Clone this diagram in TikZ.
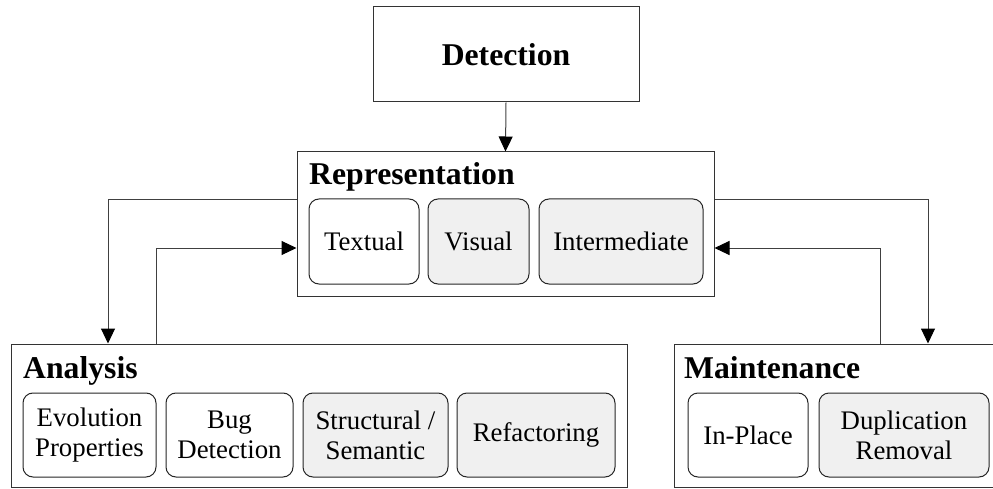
\documentclass[tikz,border=0pt]{standalone}
\usepackage{fontspec}
\setmainfont{Liberation Serif}
\usetikzlibrary{arrows.meta}

\tikzset{
  outerbox/.style={draw=black!80, line width=1pt, fill=white, inner sep=0pt},
  itembox/.style={draw=black!85, line width=1pt, rounded corners=10pt, inner sep=0pt,
    align=center, font=\fontsize{26.8}{30}\selectfont},
  plainitem/.style={itembox, fill=white},
  greyitem/.style={itembox, fill=black!6},
  heading/.style={anchor=base west, inner sep=0pt, font=\fontsize{31.7}{38}\selectfont\bfseries},
  arr/.style={draw=black!75, line width=1pt,
    -{Triangle[length=15pt 0 0,width=14pt 0 0,fill=black,color=black]}},
}

\begin{document}
\begin{tikzpicture}[x=1pt, y=-1pt]
\useasboundingbox (0,0) rectangle (993,489);

% top level
\node[outerbox, minimum width=266pt, minimum height=95pt,
      font=\fontsize{31.7}{38}\selectfont\bfseries] (det) at (506,54.5) {Detection};

% representation group
\node[outerbox, minimum width=417pt, minimum height=144pt] (rep) at (505.5,224) {};
\node[heading] (repT) at (309,185) {Representation};
\node[plainitem, minimum width=110pt, minimum height=85pt] (txt) at (364,241.5) {Textual};
\node[greyitem, minimum width=101pt, minimum height=85pt] (vis) at (478.5,241.5) {Visual};
\node[greyitem, minimum width=164pt, minimum height=85pt] (int) at (621,241.5) {Intermediate};

% analysis group
\node[outerbox, minimum width=616pt, minimum height=143pt] (ana) at (319,415.5) {};
\node[heading] (anaT) at (23,378) {Analysis};
\node[plainitem, minimum width=133pt, minimum height=84pt] (evo) at (89.5,435) {Evolution\\Properties};
\node[plainitem, minimum width=127pt, minimum height=84pt] (bug) at (229.5,435) {Bug\\Detection};
\node[greyitem, minimum width=145pt, minimum height=84pt] (str) at (375.5,435) {Structural /\\Semantic};
\node[greyitem, minimum width=158pt, minimum height=84pt] (ref) at (536,435) {Refactoring};

% maintenance group (runs past the right margin)
\node[outerbox, minimum width=331pt, minimum height=143pt] (mnt) at (839.5,415.5) {};
\node[heading] (mntT) at (684,378) {Maintenance};
\node[plainitem, minimum width=120pt, minimum height=84pt] (inp) at (748,435) {In-Place};
\node[greyitem, minimum width=170pt, minimum height=84pt] (dup) at (904,435) {Duplication\\Removal};

% connectors
\draw[arr] (det.south) -- (rep.north);
\draw[arr] (rep.west |- 0,200) -| (ana.north -| 108,0);
\draw[arr] (ana.north -| 156,0) |- (rep.west |- 0,248);
\draw[arr] (rep.east |- 0,200) -| (mnt.north -| 928,0);
\draw[arr] (mnt.north -| 880,0) |- (rep.east |- 0,248);
\end{tikzpicture}
\end{document}
